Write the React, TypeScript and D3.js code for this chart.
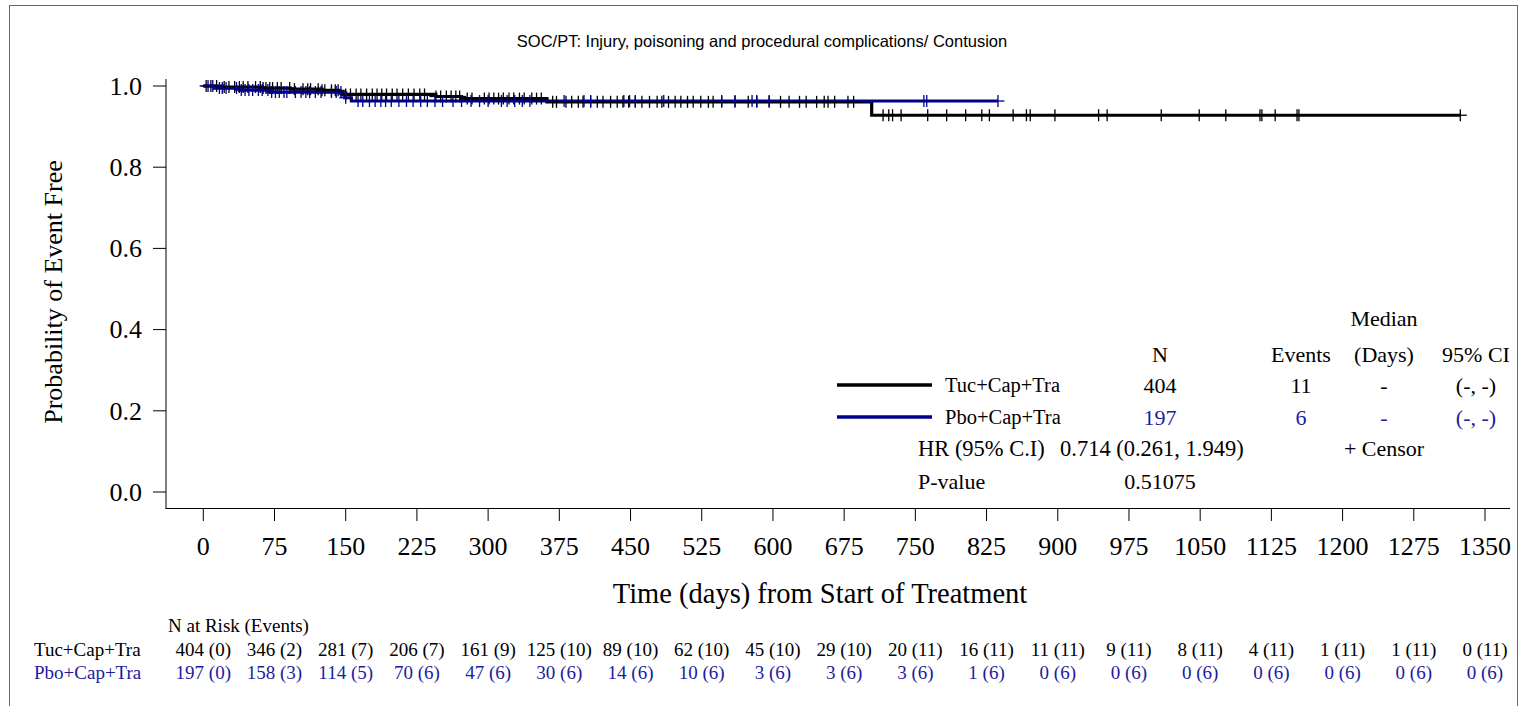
import React from "react";
import * as d3 from "d3";

// ---------- data ----------
const title = "SOC/PT: Injury, poisoning and procedural complications/ Contusion";
const xTicks = [0, 75, 150, 225, 300, 375, 450, 525, 600, 675, 750, 825, 900, 975, 1050, 1125, 1200, 1275, 1350];
const yTicks = [0, 0.2, 0.4, 0.6, 0.8, 1.0];

const groups = ["Tuc+Cap+Tra", "Pbo+Cap+Tra"];

// KM step points (time of event, survival after event)
const tucEventTimes = [20, 62, 92, 125, 143, 147, 149, 245, 272, 362, 704];
const tucSurvival = [0.9975, 0.995, 0.9923, 0.9893, 0.986, 0.9826, 0.9792, 0.9742, 0.969, 0.961, 0.928];
const tucLastTime = 1324;
const pboEventTimes = [12, 38, 70, 146, 149, 156];
const pboSurvival = [0.995, 0.99, 0.985, 0.978, 0.971, 0.963];
const pboLastTime = 837;

const tucCensor = [3, 8, 14, 22, 27, 33, 38, 42, 47, 55, 60, 63, 66, 70, 73, 78, 82, 91, 96, 105, 110, 113, 121, 125, 128, 135, 139, 142, 150, 155, 161, 166, 172, 178, 183, 188, 193, 199, 204, 210, 216, 222, 228, 233, 245, 250, 256, 261, 266, 270, 278, 283, 296, 301, 306, 311, 316, 322, 327, 333, 338, 346, 351, 356, 368, 372, 382, 388, 395, 400, 408, 415, 421, 429, 436, 442, 448, 455, 462, 470, 478, 483, 490, 497, 503, 510, 516, 524, 532, 537, 546, 560, 574, 583, 596, 608, 617, 628, 635, 646, 654, 658, 665, 679, 685, 716, 722, 726, 735, 763, 783, 803, 820, 828, 853, 867, 871, 897, 943, 952, 1009, 1049, 1077, 1113, 1115, 1129, 1152, 1154, 1324];
const pboCensor = [5, 10, 17, 20, 24, 35, 40, 44, 48, 52, 58, 62, 68, 72, 76, 80, 85, 88, 97, 103, 108, 112, 118, 124, 135, 140, 145, 150, 163, 168, 175, 181, 187, 192, 198, 206, 214, 221, 229, 236, 244, 252, 263, 272, 282, 291, 300, 314, 320, 328, 336, 344, 380, 401, 408, 443, 449, 455, 485, 546, 560, 578, 583, 596, 759, 762, 837];

const legendN = ["404", "197"];
const legendEvents = ["11", "6"];
const legendMedian = ["-", "-"];
const legendCI = ["(-, -)", "(-, -)"];
const hrText = "0.714 (0.261, 1.949)";
const pValue = "0.51075";

const tucRisk = ["404 (0)", "346 (2)", "281 (7)", "206 (7)", "161 (9)", "125 (10)", "89 (10)", "62 (10)", "45 (10)", "29 (10)", "20 (11)", "16 (11)", "11 (11)", "9 (11)", "8 (11)", "4 (11)", "1 (11)", "1 (11)", "0 (11)"];
const pboRisk = ["197 (0)", "158 (3)", "114 (5)", "70 (6)", "47 (6)", "30 (6)", "14 (6)", "10 (6)", "3 (6)", "3 (6)", "3 (6)", "1 (6)", "0 (6)", "0 (6)", "0 (6)", "0 (6)", "0 (6)", "0 (6)", "0 (6)"];

// ---------- styles ----------
const BLACK = "#000000";
const BLUE = "#00008B";
const BLUE_TEXT = "#1c1ca0";
const SERIF = "'Liberation Serif', 'Times New Roman', serif";
const SANS = "'Liberation Sans', Arial, sans-serif";

const x = d3.scaleLinear().domain([0, 1350]).range([203.3, 1485]);
const y = d3.scaleLinear().domain([0, 1]).range([492, 86]);

function buildSteps(times: number[], surv: number[], last: number): [number, number][] {
  const pts: [number, number][] = [[0, 1]];
  times.forEach((t, i) => pts.push([t, surv[i]]));
  pts.push([last, surv[surv.length - 1]]);
  return pts;
}
function survAt(times: number[], surv: number[], t: number): number {
  let s = 1;
  times.forEach((tt, i) => {
    if (tt <= t) s = surv[i];
  });
  return s;
}

const line = d3
  .line<[number, number]>()
  .x((d) => x(d[0]))
  .y((d) => y(d[1]))
  .curve(d3.curveStepAfter);

function Censors({ times, ev, sv, color }: { times: number[]; ev: number[]; sv: number[]; color: string }) {
  return (
    <g stroke={color} strokeWidth={1.3}>
      {times.map((t, i) => {
        const cx = x(t);
        const cy = y(survAt(ev, sv, t));
        return (
          <g key={i}>
            <line x1={cx} x2={cx} y1={cy - 6} y2={cy + 6} />
            <line x1={cx - 6.5} x2={cx + 6.5} y1={cy} y2={cy} />
          </g>
        );
      })}
    </g>
  );
}

export default function App() {
  const tucPts = buildSteps(tucEventTimes, tucSurvival, tucLastTime);
  const pboPts = buildSteps(pboEventTimes, pboSurvival, pboLastTime);
  const fmt = d3.format(".1f");
  const legCols = [1160, 1301, 1384, 1476];
  const legRows = [385, 417];
  const riskRows = [649, 672];
  return (
    <svg
      width={1524}
      height={706}
      style={{ position: "absolute", left: 0, top: 0, background: "#fff" }}
    >
      <rect x={0} y={0} width={1524} height={706} fill="#fff" />
      <rect x={9.5} y={5.5} width={1508} height={760} fill="none" stroke="#666" strokeWidth={1} />
      <text x={762} y={47} textAnchor="middle" fontFamily={SANS} fontSize={16.5}>
        {title}
      </text>

      {/* axes */}
      <g stroke="#000" strokeWidth={1}>
        <line x1={166} x2={166} y1={79} y2={508.5} />
        <line x1={165.5} x2={1510} y1={508.5} y2={508.5} />
        {yTicks.map((t) => (
          <line key={t} x1={153} x2={166} y1={y(t)} y2={y(t)} />
        ))}
        {xTicks.map((t) => (
          <line key={t} x1={x(t)} x2={x(t)} y1={509} y2={521} />
        ))}
      </g>
      <g fontFamily={SERIF} fontSize={26} fill="#000">
        {yTicks.map((t) => (
          <text key={t} x={142} y={y(t)} dy="0.34em" textAnchor="end">
            {fmt(t)}
          </text>
        ))}
        {xTicks.map((t) => (
          <text key={t} x={x(t)} y={555} textAnchor="middle">
            {t}
          </text>
        ))}
      </g>
      <text
        transform="translate(62,292) rotate(-90)"
        textAnchor="middle"
        fontFamily={SERIF}
        fontSize={26}
      >
        Probability of Event Free
      </text>
      <text x={820} y={603} textAnchor="middle" fontFamily={SERIF} fontSize={28.5}>
        Time (days) from Start of Treatment
      </text>

      {/* curves */}
      <path d={line(tucPts) || ""} fill="none" stroke={BLACK} strokeWidth={3.2} />
      <path d={line(pboPts) || ""} fill="none" stroke={BLUE} strokeWidth={3.2} />
      <Censors times={tucCensor} ev={tucEventTimes} sv={tucSurvival} color={BLACK} />
      <Censors times={pboCensor} ev={pboEventTimes} sv={pboSurvival} color={BLUE} />

      {/* legend */}
      <g fontFamily={SERIF} fontSize={22}>
        <text x={legCols[2]} y={326} textAnchor="middle">Median</text>
        <text x={legCols[0]} y={362} textAnchor="middle">N</text>
        <text x={legCols[1]} y={362} textAnchor="middle">Events</text>
        <text x={legCols[2]} y={362} textAnchor="middle">(Days)</text>
        <text x={legCols[3]} y={362} textAnchor="middle">95% CI</text>
        {groups.map((g, i) => {
          const col = i === 0 ? BLACK : BLUE_TEXT;
          const ly = legRows[i];
          return (
            <g key={g}>
              <line x1={837} x2={932} y1={ly} y2={ly} stroke={i === 0 ? BLACK : BLUE} strokeWidth={3.5} />
              <text x={945} y={ly + 7} fontSize={20.5}>{g}</text>
              <text x={legCols[0]} y={ly + 8} textAnchor="middle" fill={col}>{legendN[i]}</text>
              <text x={legCols[1]} y={ly + 8} textAnchor="middle" fill={col}>{legendEvents[i]}</text>
              <text x={legCols[2]} y={ly + 8} textAnchor="middle" fill={col}>{legendMedian[i]}</text>
              <text x={legCols[3]} y={ly + 8} textAnchor="middle" fill={col}>{legendCI[i]}</text>
            </g>
          );
        })}
        <text x={918} y={456} fontSize={22.5}>HR (95% C.I)</text>
        <text x={1060} y={456} fontSize={22.5}>{hrText}</text>
        <text x={legCols[2]} y={456} textAnchor="middle">+ Censor</text>
        <text x={918} y={489}>P-value</text>
        <text x={legCols[0]} y={489} textAnchor="middle">{pValue}</text>
      </g>

      {/* risk table */}
      <g fontFamily={SERIF} fontSize={19}>
        <text x={168} y={632}>N at Risk (Events)</text>
        <text x={34} y={riskRows[0] + 7}>{groups[0]}</text>
        <text x={34} y={riskRows[1] + 7} fill={BLUE_TEXT}>{groups[1]}</text>
        {xTicks.map((t, i) => (
          <g key={t}>
            <text x={x(t)} y={riskRows[0] + 7} textAnchor="middle">{tucRisk[i]}</text>
            <text x={x(t)} y={riskRows[1] + 7} textAnchor="middle" fill={BLUE_TEXT}>{pboRisk[i]}</text>
          </g>
        ))}
      </g>
    </svg>
  );
}
